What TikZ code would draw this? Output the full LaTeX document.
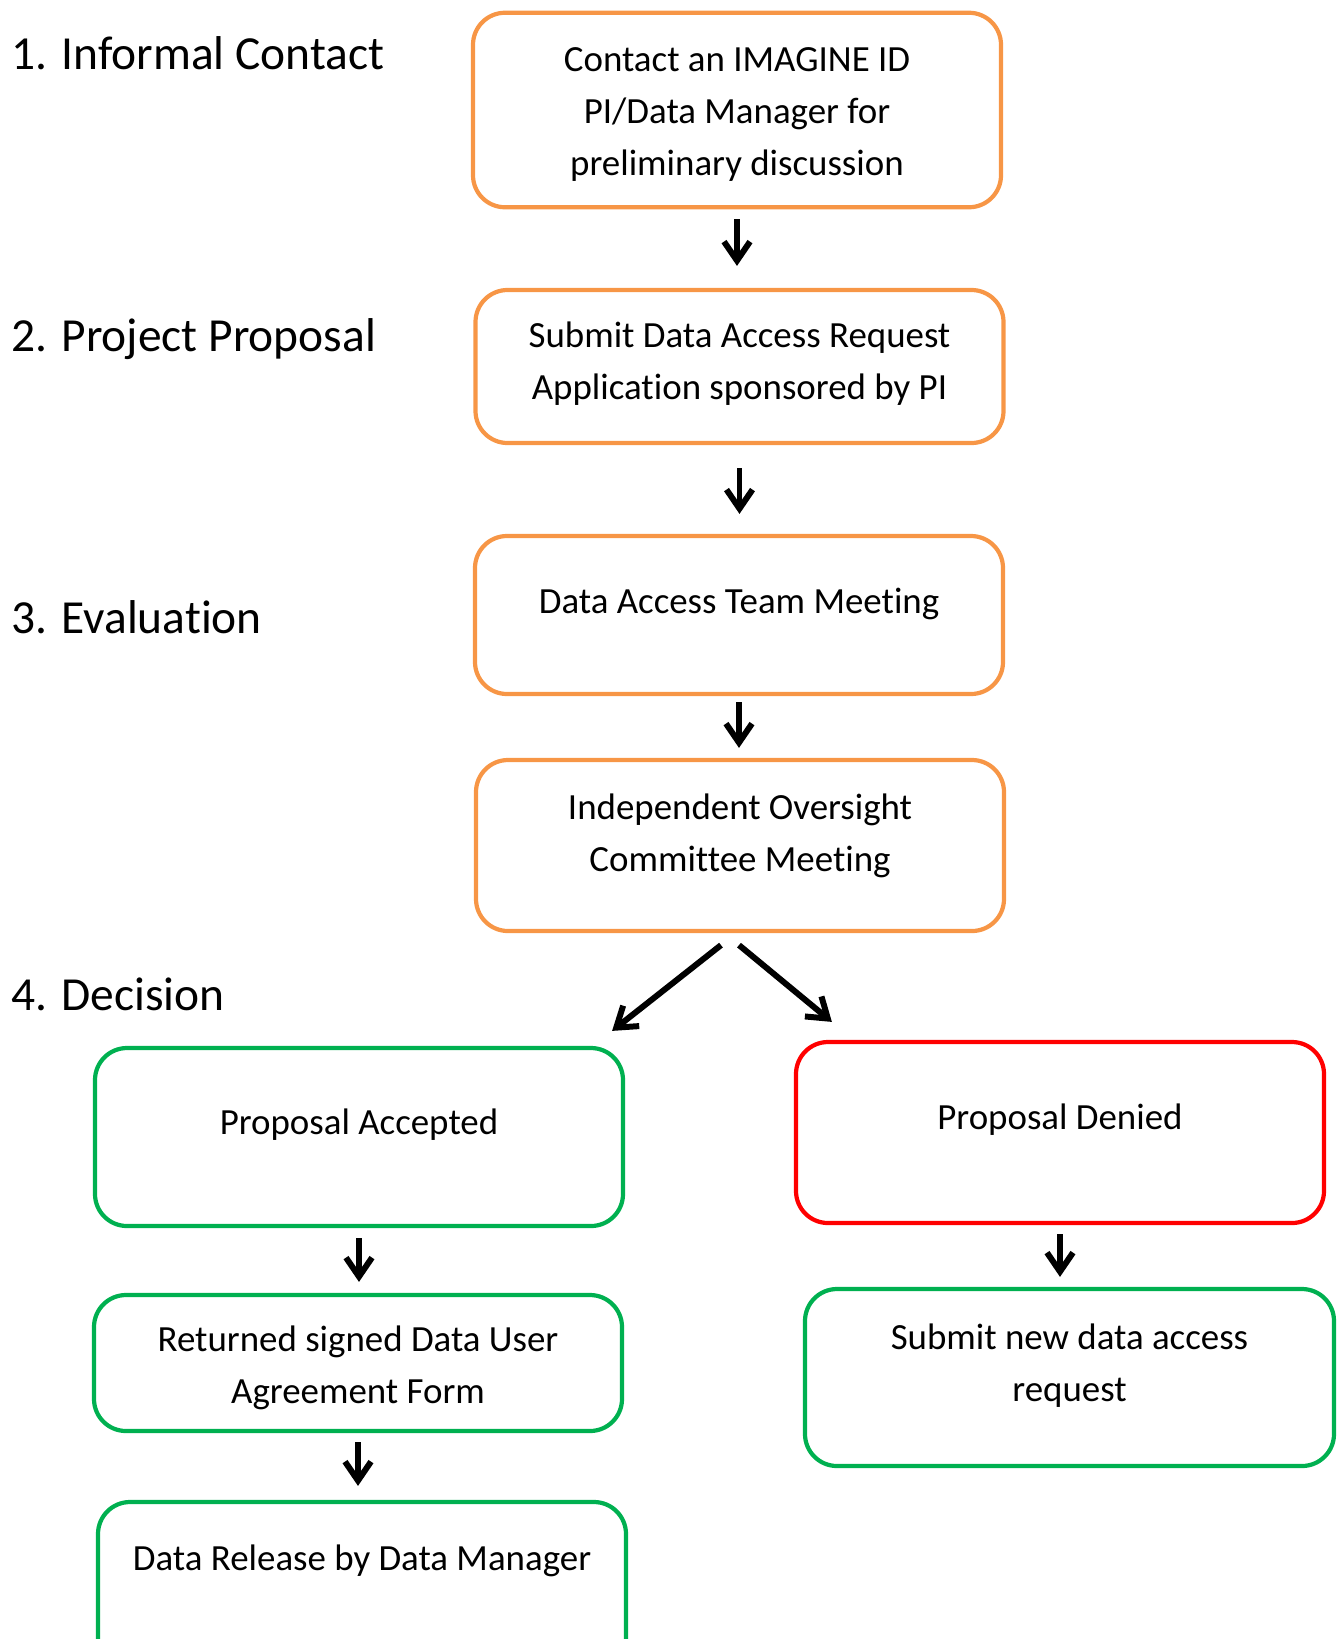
\documentclass[tikz,border=0pt]{standalone}
\usepackage{fontspec}
\setmainfont[Ligatures=CommonOff]{Carlito}
\usetikzlibrary{arrows.meta}
\definecolor{boxorange}{HTML}{F79646}
\definecolor{boxgreen}{HTML}{00B050}
\definecolor{boxred}{HTML}{FF0000}

\begin{document}
\begin{tikzpicture}[
  box/.style={draw, rounded corners=0.32cm, line width=1.2pt, minimum width=5.28cm},
  txt/.style={anchor=north, inner sep=0pt, align=center, font=\fontsize{10.5}{14.8}\selectfont},
  stage/.style={anchor=base west, inner sep=0pt, font=\fontsize{13.5}{16}\selectfont},
  arr/.style={-{Straight Barb[length=1.9mm, width=2.6mm]}, line width=1.7pt}
]
\useasboundingbox (0,0) rectangle (13.40,-16.39);
\clip (0,0) rectangle (13.40,-16.39);

\node (s1)[stage] at (0.105,-0.69) {1. Informal Contact};
\node (s2)[stage] at (0.105,-3.51) {2. Project Proposal};
\node (s3)[stage] at (0.105,-6.33) {3. Evaluation};
\node (s4)[stage] at (0.105,-10.10) {4. Decision};

\node (contact)[box, boxorange, minimum height=1.945cm] at (7.37,-1.10) {};
\node (dar)[box, boxorange, minimum height=1.53cm] at (7.395,-3.665) {};
\node (team)[box, boxorange, minimum height=1.58cm] at (7.39,-6.15) {};
\node (ioc)[box, boxorange, minimum height=1.71cm] at (7.40,-8.455) {};
\node (acc)[box, boxgreen, minimum height=1.78cm] at (3.59,-11.37) {};
\node (den)[box, boxred, minimum height=1.81cm] at (10.60,-11.325) {};
\node (ret)[box, boxgreen, minimum height=1.36cm] at (3.58,-13.63) {};
\node (newreq)[box, boxgreen, minimum width=5.29cm, minimum height=1.77cm] at (10.695,-13.775) {};
\node (rel)[box, boxgreen, minimum height=1.78cm] at (3.62,-15.91) {};

\node (contact-t)[txt] at ([yshift=-0.365cm]contact.north) {Contact an IMAGINE ID\\PI/Data Manager for\\preliminary discussion};
\node (dar-t)[txt] at ([yshift=-0.33cm]dar.north) {Submit Data Access Request\\Application sponsored by PI};
\node (team-t)[txt] at ([yshift=-0.54cm]team.north) {Data Access Team Meeting};
\node (ioc-t)[txt] at ([yshift=-0.35cm]ioc.north) {Independent Oversight\\Committee Meeting};
\node (acc-t)[txt] at ([yshift=-0.62cm]acc.north) {Proposal Accepted};
\node (den-t)[txt] at ([yshift=-0.63cm]den.north) {Proposal Denied};
\node (ret-t)[txt] at ([yshift=-0.32cm]ret.north) {Returned signed Data User\\Agreement Form};
\node (newreq-t)[txt] at ([yshift=-0.36cm]newreq.north) {Submit new data access\\request};
\node (rel-t)[txt] at ([yshift=-0.44cm]rel.north) {Data Release by Data Manager};

\draw [arr, shorten <=0.10cm, shorten >=0.22cm](contact.south)--(contact.south |- dar.north);
\draw [arr, shorten <=0.23cm, shorten >=0.20cm](dar.south)--(dar.south |- team.north);
\draw [arr, shorten <=0.06cm, shorten >=0.10cm](team.south)--(team.south |- ioc.north);
\draw [arr]([shift={(-0.19,-0.12)}]ioc.south)--([shift={(-0.13,0.15)}]acc.north east);
\draw [arr]([shift={(-0.01,-0.12)}]ioc.south)--([shift={(0.38,0.18)}]den.north west);
\draw [arr, shorten <=0.10cm, shorten >=0.11cm](acc.south)--(acc.south |- ret.north);
\draw [arr, shorten <=0.09cm, shorten >=0.14cm](ret.south)--(ret.south |- rel.north);
\draw [arr, shorten <=0.09cm, shorten >=0.10cm](den.south)--(den.south |- newreq.north);
\end{tikzpicture}
\end{document}
